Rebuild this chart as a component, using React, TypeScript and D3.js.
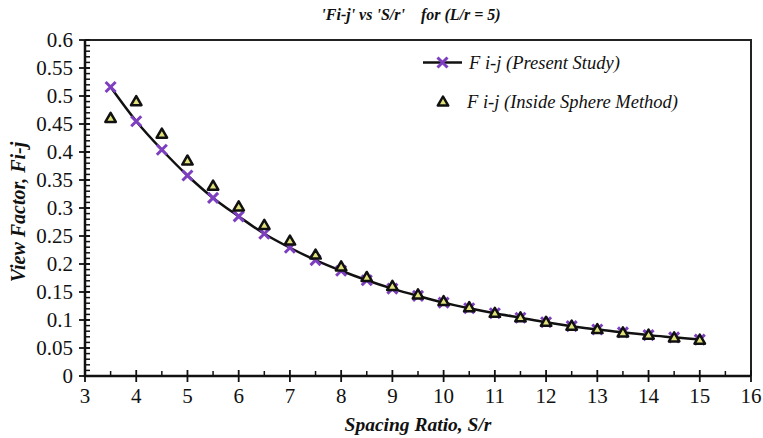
import React, { useEffect, useRef } from 'react';
import * as d3 from 'd3';

const spacing = [3.5, 4, 4.5, 5, 5.5, 6, 6.5, 7, 7.5, 8, 8.5, 9, 9.5, 10, 10.5, 11, 11.5, 12, 12.5, 13, 13.5, 14, 14.5, 15];
const presentStudy = [0.516, 0.455, 0.404, 0.358, 0.318, 0.285, 0.254, 0.229, 0.207, 0.188, 0.171, 0.156, 0.143, 0.131, 0.121, 0.112, 0.104, 0.096, 0.089, 0.083, 0.078, 0.073, 0.069, 0.065];
const insideSphere = [0.460, 0.490, 0.432, 0.384, 0.339, 0.302, 0.269, 0.241, 0.216, 0.195, 0.176, 0.160, 0.145, 0.133, 0.122, 0.112, 0.104, 0.096, 0.089, 0.083, 0.077, 0.073, 0.068, 0.064];
const xTicks = d3.range(3, 17, 1);
const yTicks = d3.range(0, 0.6001, 0.05);

const serif = "'Liberation Serif', Tinos, 'Times New Roman', serif";

function crossPath(cx: number, cy: number, r: number) {
  return `M${cx - r},${cy - r}L${cx + r},${cy + r}M${cx - r},${cy + r}L${cx + r},${cy - r}`;
}

function triPath(cx: number, cy: number, r: number) {
  return `M${cx},${cy - r}L${cx + r * 0.95},${cy + r * 0.65}L${cx - r * 0.95},${cy + r * 0.65}Z`;
}

export default function App() {
  const ref = useRef<SVGSVGElement>(null);

  useEffect(() => {
    const svg = d3.select(ref.current);
    svg.selectAll('*').remove();

    const left = 85, right = 751, top = 40, bottom = 376;
    const x = d3.scaleLinear().domain([3, 16]).range([left, right]);
    const y = d3.scaleLinear().domain([0, 0.6]).range([bottom, top]);

    svg.append('rect').attr('width', 763).attr('height', 438).attr('fill', '#fff');

    // frame top + right
    svg.append('path')
      .attr('d', `M${left},${top}H${right}V${bottom}`)
      .attr('fill', 'none').attr('stroke', '#222').attr('stroke-width', 2);

    // y minor ticks
    svg.append('g').selectAll('line').data(d3.range(0, 0.6001, 0.01)).join('line')
      .attr('x1', left).attr('x2', left + 5)
      .attr('y1', d => y(d)).attr('y2', d => y(d))
      .attr('stroke', '#111').attr('stroke-width', 1.5);

    // y major ticks
    svg.append('g').selectAll('line').data(yTicks).join('line')
      .attr('x1', left - 6).attr('x2', left + 5)
      .attr('y1', d => y(d)).attr('y2', d => y(d))
      .attr('stroke', '#111').attr('stroke-width', 1.8);

    svg.append('g').selectAll('text').data(yTicks).join('text')
      .attr('x', left - 12).attr('y', d => y(d) + 7)
      .attr('text-anchor', 'end')
      .style('font-family', serif).style('font-size', '21px').attr('fill', '#111')
      .text(d => String(+d.toFixed(2)));

    // x minor ticks
    svg.append('g').selectAll('line').data(d3.range(3.5, 16, 1)).join('line')
      .attr('x1', d => x(d)).attr('x2', d => x(d))
      .attr('y1', bottom).attr('y2', bottom - 5)
      .attr('stroke', '#111').attr('stroke-width', 1.5);

    // x major ticks
    svg.append('g').selectAll('line').data(xTicks).join('line')
      .attr('x1', d => x(d)).attr('x2', d => x(d))
      .attr('y1', bottom - 6).attr('y2', bottom + 6)
      .attr('stroke', '#111').attr('stroke-width', 1.8);

    svg.append('g').selectAll('text').data(xTicks).join('text')
      .attr('x', d => x(d)).attr('y', bottom + 27)
      .attr('text-anchor', 'middle')
      .style('font-family', serif).style('font-size', '21px').attr('fill', '#111')
      .text(d => String(d));

    // axis lines
    svg.append('path')
      .attr('d', `M${left},${top}V${bottom}H${right}`)
      .attr('fill', 'none').attr('stroke', '#111').attr('stroke-width', 2.5);

    // curve
    const pts: [number, number][] = spacing.map((s, i) => [s, presentStudy[i]]);
    svg.append('path')
      .attr('d', d3.line<[number, number]>().x(d => x(d[0])).y(d => y(d[1])).curve(d3.curveCatmullRom)(pts))
      .attr('fill', 'none').attr('stroke', '#111').attr('stroke-width', 2.5);

    const purple = '#7d3fc0';
    svg.append('g').selectAll('path').data(pts).join('path')
      .attr('d', d => crossPath(x(d[0]), y(d[1]), 5))
      .attr('stroke', purple).attr('stroke-width', 3).attr('fill', 'none');

    const tris: [number, number][] = spacing.map((s, i) => [s, insideSphere[i]]);
    svg.append('g').selectAll('path').data(tris).join('path')
      .attr('d', d => triPath(x(d[0]), y(d[1]), 5.5))
      .attr('stroke', '#111').attr('stroke-width', 2.5).attr('stroke-linejoin', 'round')
      .attr('fill', '#e2e27a');

    // legend
    const lg = svg.append('g');
    lg.append('line').attr('x1', 423).attr('x2', 462).attr('y1', 62.5).attr('y2', 62.5)
      .attr('stroke', '#111').attr('stroke-width', 2.5);
    lg.append('path').attr('d', crossPath(442.5, 62.5, 5))
      .attr('stroke', purple).attr('stroke-width', 3).attr('fill', 'none');
    lg.append('text').attr('x', 469).attr('y', 68.5)
      .style('font-family', serif).style('font-style', 'italic').style('font-size', '18.5px').attr('fill', '#111')
      .text('F i-j (Present Study)');
    lg.append('path').attr('d', triPath(443, 102, 5.5))
      .attr('stroke', '#111').attr('stroke-width', 2.5).attr('stroke-linejoin', 'round').attr('fill', '#e2e27a');
    lg.append('text').attr('x', 467).attr('y', 107.5)
      .style('font-family', serif).style('font-style', 'italic').style('font-size', '18.5px').attr('fill', '#111')
      .text('F i-j (Inside Sphere Method)');

    // titles
    svg.append('text').attr('x', 411).attr('y', 20).attr('text-anchor', 'middle')
      .style('font-family', serif).style('font-style', 'italic').style('font-weight', 'bold')
      .style('font-size', '16px').style('white-space', 'pre').attr('fill', '#111')
      .text("'Fi-j' vs 'S/r'    for (L/r = 5)");

    svg.append('text').attr('x', 418).attr('y', 431).attr('text-anchor', 'middle')
      .style('font-family', serif).style('font-style', 'italic').style('font-weight', 'bold')
      .style('font-size', '19.5px').attr('fill', '#111')
      .text('Spacing Ratio, S/r');

    svg.append('text').attr('transform', 'translate(25,212) rotate(-90)').attr('text-anchor', 'middle')
      .style('font-family', serif).style('font-style', 'italic').style('font-weight', 'bold')
      .style('font-size', '20px').attr('fill', '#111')
      .text('View Factor, Fi-j');
  }, []);

  return (
    <svg ref={ref} width={763} height={438}
      style={{ position: 'absolute', left: 0, top: 0, display: 'block' }} />
  );
}
